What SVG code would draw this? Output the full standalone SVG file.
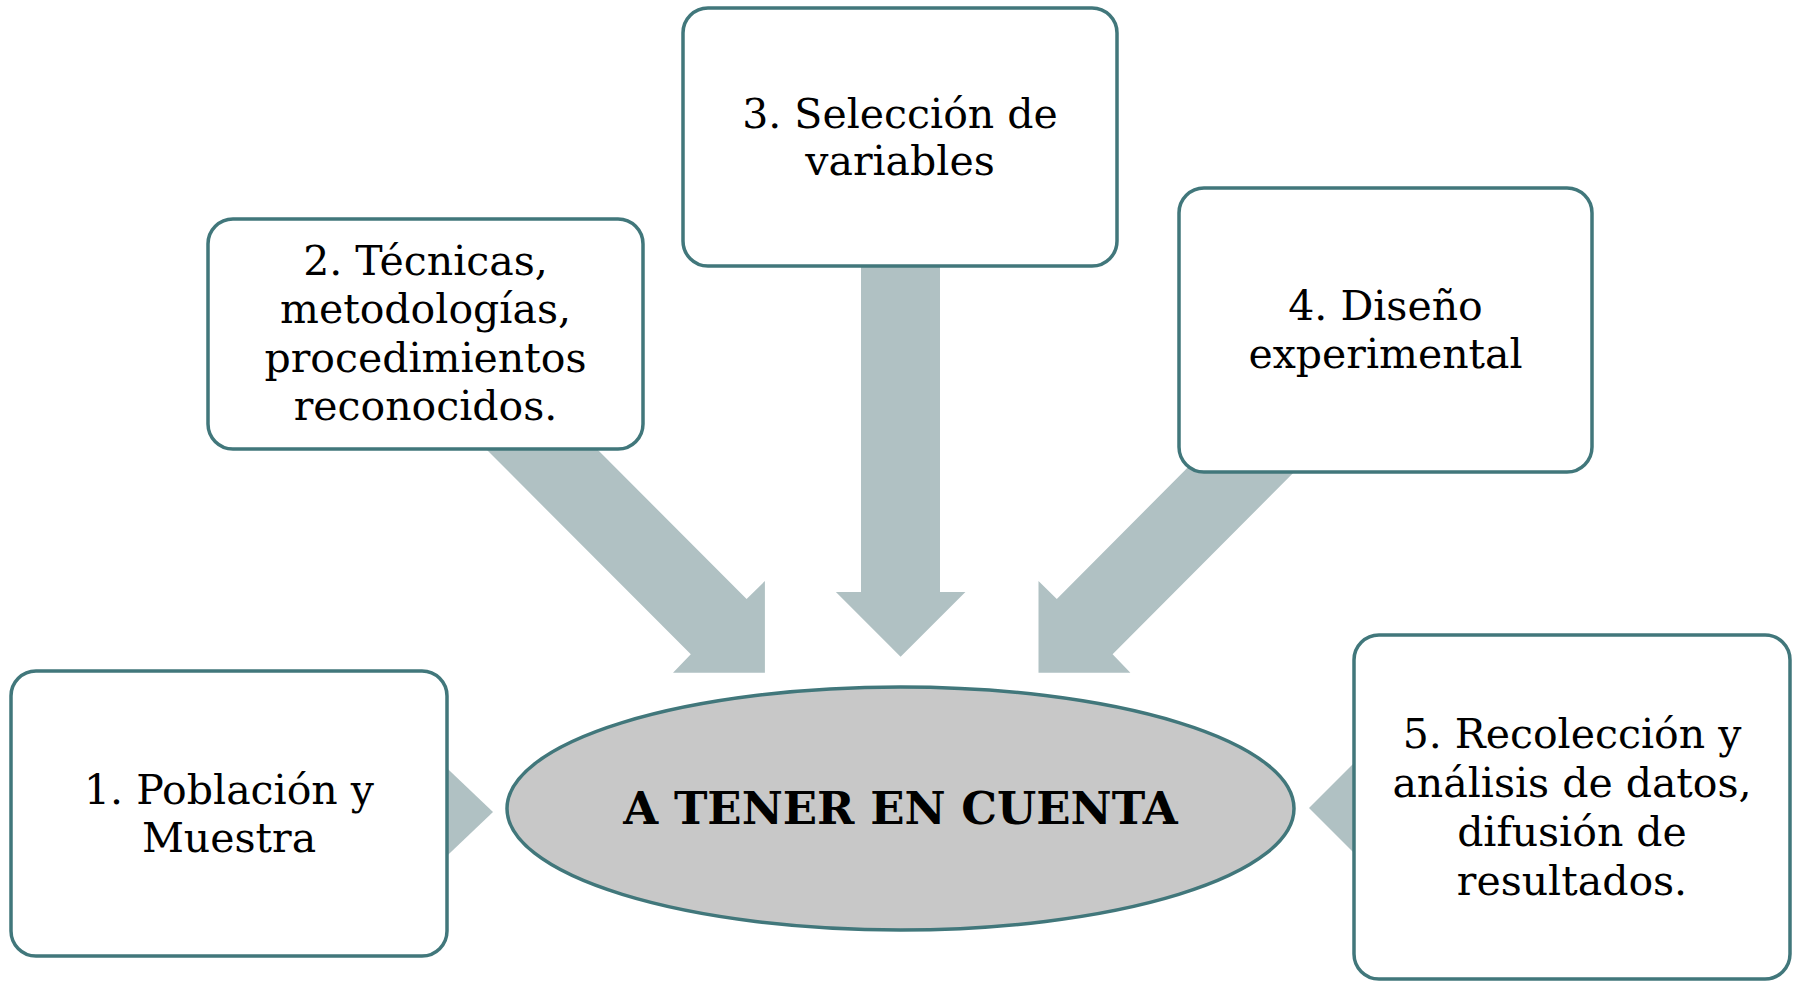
<svg xmlns="http://www.w3.org/2000/svg" width="1795" height="981" viewBox="0 0 1795 981">
<style>
.box{fill:#FFFFFF;stroke:#41777B;stroke-width:3.5}
.arr{fill:#B0C1C3;stroke:none}
.t{font-family:"DejaVu Serif","Liberation Serif",serif;font-size:41px;fill:#000;text-anchor:middle}
.c{font-family:"DejaVu Serif","Liberation Serif",serif;font-size:45px;font-weight:bold;fill:#000;text-anchor:middle}
</style>
<rect width="1795" height="981" fill="#FFFFFF"/>
<g id="connectors">
<polygon class="arr" points="430,752 493,812 430,872"/>
<polygon class="arr" points="457,420 568,420 746.6,599 764.9,581 764.9,672.7 673,672.7 690.8,654.3"/>
<polygon class="arr" points="861,250 940,250 940,592 965.4,592 900.6,656.7 835.9,592 861,592"/>
<polygon class="arr" points="1346,420 1235,420 1056.8,599 1038.5,581 1038.5,672.7 1130.4,672.7 1112.6,654.3"/>
<polygon class="arr" points="1372,745 1309,808 1372,871"/>
</g>
<g id="center">
<ellipse cx="900.5" cy="808.5" rx="393.5" ry="121.5" fill="#C8C8C8" stroke="#41777B" stroke-width="3.5"/>
<text class="c" x="900.5" y="824">A TENER EN CUENTA</text>
</g>
<g id="node1">
<rect class="box" x="11" y="671" width="436" height="285" rx="25"/>
<text class="t" x="229" y="804">1. Población y</text>
<text class="t" x="229" y="852">Muestra</text>
</g>
<g id="node2">
<rect class="box" x="208" y="219" width="435" height="230" rx="25"/>
<text class="t" x="425.5" y="275">2. Técnicas,</text>
<text class="t" x="425.5" y="323">metodologías,</text>
<text class="t" x="425.5" y="372">procedimientos</text>
<text class="t" x="425.5" y="420">reconocidos.</text>
</g>
<g id="node3">
<rect class="box" x="683" y="8" width="434" height="258" rx="25"/>
<text class="t" x="900" y="128">3. Selección de</text>
<text class="t" x="900" y="175">variables</text>
</g>
<g id="node4">
<rect class="box" x="1179" y="188" width="413" height="284" rx="25"/>
<text class="t" x="1385.5" y="320">4. Diseño</text>
<text class="t" x="1385.5" y="368">experimental</text>
</g>
<g id="node5">
<rect class="box" x="1354" y="635" width="436" height="344" rx="25"/>
<text class="t" x="1572" y="748">5. Recolección y</text>
<text class="t" x="1572" y="797">análisis de datos,</text>
<text class="t" x="1572" y="846">difusión de</text>
<text class="t" x="1572" y="895">resultados.</text>
</g>
</svg>
